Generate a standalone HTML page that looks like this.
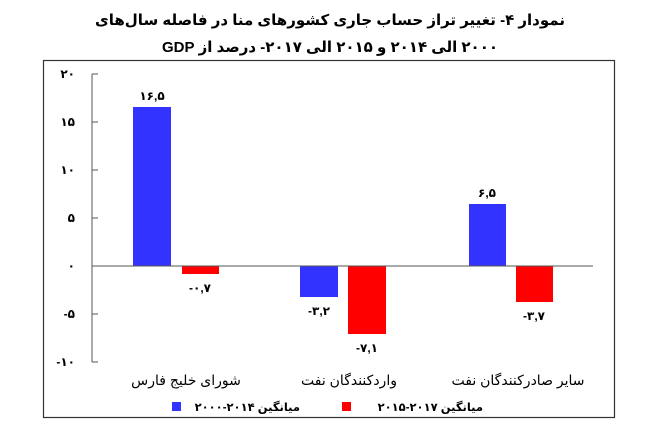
<!DOCTYPE html>
<html><head><meta charset="utf-8"><style>
body{margin:0;background:#fff;width:652px;height:426px;overflow:hidden}
text{font-family:"Liberation Sans","DejaVu Sans",sans-serif}
</style></head><body>
<svg width="652" height="426" xmlns="http://www.w3.org/2000/svg">
<g font-weight="bold" font-size="15" text-anchor="middle" fill="#000">
<text x="330" y="25" font-family="DejaVu Sans" direction="rtl" unicode-bidi="embed">نمودار ۴- تغییر تراز حساب جاری کشورهای منا در فاصله سال‌های</text>
<text x="330" y="52" font-family="DejaVu Sans" direction="rtl" unicode-bidi="embed">۲۰۰۰ الی ۲۰۱۴ و ۲۰۱۵ الی ۲۰۱۷- درصد از GDP</text>
</g>
<rect x="43.5" y="60.5" width="571" height="357" fill="none" stroke="#333" stroke-width="1.2"/>
<line x1="92" y1="74" x2="92" y2="362" stroke="#555"/>
<g stroke="#555">
<line x1="92" y1="74" x2="98" y2="74"/><line x1="92" y1="122" x2="98" y2="122"/><line x1="92" y1="170" x2="98" y2="170"/><line x1="92" y1="218" x2="98" y2="218"/><line x1="92" y1="314" x2="98" y2="314"/><line x1="92" y1="362" x2="98" y2="362"/>
</g>
<g font-size="12" font-weight="bold" text-anchor="end" font-family="DejaVu Sans">
<text x="75" y="78">۲۰</text><text x="75" y="126">۱۵</text><text x="75" y="174">۱۰</text><text x="75" y="222">۵</text><text x="75" y="270">۰</text><text x="75" y="318">-۵</text><text x="75" y="366">-۱۰</text>
</g>
<rect x="133" y="107" width="38" height="159" fill="#3333ff"/>
<rect x="182" y="266" width="37" height="8" fill="#ff0000"/>
<rect x="300" y="266" width="38" height="31" fill="#3333ff"/>
<rect x="348" y="266" width="38" height="68" fill="#ff0000"/>
<rect x="469" y="204" width="37" height="62" fill="#3333ff"/>
<rect x="516" y="266" width="37" height="36" fill="#ff0000"/>
<line x1="92" y1="266" x2="593" y2="266" stroke="#555"/>
<g font-size="12" font-weight="bold" text-anchor="middle" font-family="DejaVu Sans">
<text x="152" y="100">۱۶,۵</text><text x="200" y="292">-۰,۷</text>
<text x="319" y="315">-۳,۲</text><text x="367" y="352">-۷,۱</text>
<text x="487" y="197">۶,۵</text><text x="534" y="320">-۳,۷</text>
</g>
<g font-size="14" text-anchor="middle" font-family="DejaVu Sans">
<text x="186" y="385">شورای خلیج فارس</text>
<text x="349" y="385">واردکنندگان نفت</text>
<text x="518" y="385">سایر صادرکنندگان نفت</text>
</g>
<rect x="172" y="402" width="9" height="9" fill="#3333ff"/>
<text x="300" y="411" font-size="11.5" text-anchor="start" font-family="DejaVu Sans" font-weight="bold" direction="rtl" unicode-bidi="embed">میانگین ۲۰۱۴-۲۰۰۰</text>
<rect x="342" y="402" width="9" height="9" fill="#ff0000"/>
<text x="483" y="411" font-size="11.5" text-anchor="start" font-family="DejaVu Sans" font-weight="bold" direction="rtl" unicode-bidi="embed">میانگین ۲۰۱۷-۲۰۱۵</text>
</svg>
</body></html>
